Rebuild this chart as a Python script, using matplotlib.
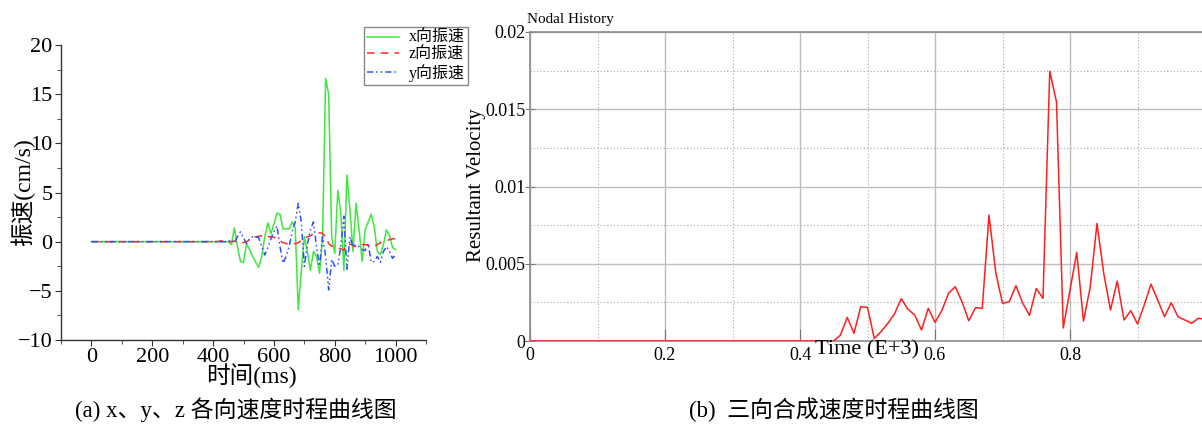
import numpy as np
import matplotlib
matplotlib.use("Agg")
from matplotlib import pyplot as plt
from matplotlib.ticker import MultipleLocator, FixedLocator, FixedFormatter

plt.rcParams['font.family'] = ['Liberation Serif', 'Noto Sans CJK SC']
plt.rcParams['axes.unicode_minus'] = True

# 时间轴 (ms)，每 10 ms 一个采样点
t_ms = np.arange(0, 1001, 10)

# x 向振速 (cm/s)，450 ms 之前为 0
vx_tail = [0.0, -0.3, 1.4, -0.5, -2.0, -2.1, -0.2, -0.8, -1.5, -2.1,
           -2.6, -1.5, 0.5, 1.9, 0.8, 1.8, 2.9, 2.8, 1.3, 1.3,
           1.3, 2.0, 1.4, -6.9, -3.0, 0.5, -1.0, -2.9, -1.0, -1.5,
           -3.2, 0.5, 16.6, 15.0, 0.5, -1.2, 5.2, 2.9, -2.9, 6.8,
           3.2, -1.0, 3.9, 1.2, -2.0, 1.2, 2.0, 2.8, 1.5, -1.0,
           -1.3, -0.3, 1.2, 0.6, -0.6, -0.8]
vx = [0.0] * 45 + vx_tail

# z 向振速，420 ms 起
vz_tail = [0.05, 0.1, 0.1, 0.0, 0.0, 0.05, -0.05, -0.1, -0.1, 0.0,
           0.2, 0.4, 0.5, 0.55, 0.6, 0.6, 0.5, 0.5, 0.45, 0.3,
           0.1, -0.1, -0.2, -0.2, -0.2, -0.2, -0.1, 0.1, 0.35, 0.5,
           0.6, 0.8, 0.85, 0.9, 0.85, 0.5, -0.2, -0.45, -0.5, -0.6,
           -0.75, -0.85, -0.3, -0.25, -0.4, -0.5, -0.35, -0.3, -0.3, -0.35,
           -0.5, -0.45, -0.3, -0.1, 0.0, 0.1, 0.2, 0.3, 0.3]
vz = [0.0] * 42 + vz_tail

# y 向振速，450 ms 起
vy_tail = [0.0, 0.2, -0.1, 0.5, 1.0, 0.4, -0.2, 0.3, 0.5, 0.5,
           0.4, -0.5, -1.35, -0.6, 0.3, 1.0, 1.6, -0.5, -2.2, -1.5,
           -0.5, 1.0, 2.0, 3.9, 2.0, -2.5, -0.3, 1.2, 2.0, -0.5,
           -2.5, 0.5, -1.5, -4.9, -1.8, -2.5, -2.4, -0.5, 2.6, -2.8,
           0.5, -0.5, -0.3, -0.5, -0.8, -0.9, -0.2, -2.1, -2.0, -1.5,
           -2.1, -1.0, -0.5, -1.0, -1.7, -1.3]
vy = [0.0] * 45 + vy_tail

# 合成速度 (Time 单位 E+3)，0.45 之前为 0
t_res = np.arange(0, 101) / 100.0
vr_tail = [0.00039, 0.00153, 0.0005, 0.00222, 0.00218, 0.00017, 0.0006, 0.00114, 0.00175, 0.00274,
           0.00205, 0.00168, 0.00071, 0.00211, 0.00121, 0.00196, 0.00308, 0.00351, 0.00254, 0.00131,
           0.00216, 0.00211, 0.00815, 0.00442, 0.00244, 0.00254, 0.00358, 0.00244, 0.00166, 0.0034,
           0.00276, 0.01746, 0.01547, 0.00084, 0.0033, 0.00573, 0.00129, 0.00351, 0.00761, 0.00437,
           0.002, 0.00388, 0.00136, 0.00196, 0.0011, 0.00233, 0.00368, 0.00265, 0.00157, 0.00248,
           0.00157, 0.00136, 0.00114, 0.00147, 0.00142]
vr = [0.0] * 46 + vr_tail

W, H = 1202, 424
fig = plt.figure(figsize=(W / 100, H / 100), dpi=100)

# ---- (a) 三向振速 ----
ax1 = fig.add_axes([61 / W, 1 - 340 / H, 365 / W, 295 / H])
ax1.plot(t_ms, vx, '-', color='#3de83d', lw=1.1, label='x向振速')
ax1.plot(t_ms, vz, '--', color='#ff2a2a', lw=1.1, dashes=(5, 4), label='z向振速')
ax1.plot(t_ms, vy, '-', color='#2f4fff', lw=1.1, dashes=(4, 2, 1, 2, 1, 2), label='y向振速')
ax1.set_xlim(-100, 1100)
ax1.set_ylim(-10, 20)
ax1.xaxis.set_major_locator(MultipleLocator(200))
ax1.xaxis.set_minor_locator(MultipleLocator(100))
ax1.yaxis.set_major_locator(MultipleLocator(5))
ax1.yaxis.set_minor_locator(MultipleLocator(2.5))
for s in ['top', 'right']:
    ax1.spines[s].set_visible(False)
for s in ['left', 'bottom']:
    ax1.spines[s].set_color('#333333')
    ax1.spines[s].set_linewidth(1.0)
ax1.tick_params(which='both', direction='out', colors='#333333', labelcolor='black')
ax1.tick_params(which='major', length=4, labelsize=16, pad=2)
ax1.tick_params(which='minor', length=3)

fig.text(23 / W, 1 - 192 / H, '振速(cm/s)', rotation=90, ha='center', va='center', fontsize=17)
fig.text(251 / W, 1 - 376 / H, '时间(ms)', ha='center', va='center', fontsize=17)

leg = ax1.legend(loc='upper left', bbox_to_anchor=(364 / W, 1 - 27 / H),
                 bbox_transform=fig.transFigure, borderaxespad=0,
                 prop={'family': ['Liberation Serif', 'Noto Sans CJK SC'], 'size': 11.5},
                 handlelength=2.0, labelspacing=0.05, borderpad=0.2, handletextpad=0.6,
                 fancybox=False, framealpha=1)
leg.get_frame().set_edgecolor('#888888')
leg.get_frame().set_linewidth(1.0)

# ---- (b) 合成速度 ----
ax2 = fig.add_axes([530 / W, 1 - 341 / H, 675 / W, 309 / H])
ax2.plot(t_res, vr, '-', color='#ff1e1e', lw=1.1, zorder=3)
ax2.set_xlim(0, 1.0)
ax2.set_ylim(0, 0.02)
ax2.xaxis.set_major_locator(FixedLocator([0, 0.2, 0.4, 0.6, 0.8]))
ax2.xaxis.set_major_formatter(FixedFormatter(['0', '0.2', '0.4', '0.6', '0.8']))
ax2.xaxis.set_minor_locator(MultipleLocator(0.1))
ax2.yaxis.set_major_locator(FixedLocator([0, 0.005, 0.01, 0.015, 0.02]))
ax2.yaxis.set_major_formatter(FixedFormatter(['0', '0.005', '0.01', '0.015', '0.02']))
ax2.yaxis.set_minor_locator(MultipleLocator(0.0025))
ax2.grid(which='major', color='#bdbdbd', lw=1.0, ls='-')
ax2.grid(which='minor', color='#a8a8a8', lw=0.8, ls=(0, (1, 2)))
ax2.set_axisbelow(True)
for s in ['left', 'bottom', 'top']:
    ax2.spines[s].set_color('#8c8c8c')
    ax2.spines[s].set_linewidth(1.2)
ax2.spines['right'].set_visible(False)
ax2.tick_params(axis='y', which='major', direction='inout', length=7, colors='#777777',
                labelcolor='black', labelsize=13, pad=0)
ax2.tick_params(axis='x', which='major', direction='in', length=9, colors='#777777',
                labelcolor='black', labelsize=13, pad=4)
ax2.tick_params(which='minor', length=0)

fig.text(527 / W, 1 - 20 / H, 'Nodal History', ha='left', va='center', fontsize=11)
fig.text(477 / W, 1 - 185 / H, 'Resultant Velocity', rotation=90, ha='center', va='center', fontsize=15)
fig.text(867 / W, 1 - 350 / H, 'Time (E+3)', ha='center', va='center', fontsize=16)

# 图注
fig.text(236 / W, 1 - 410 / H, '(a) x、y、z 各向速度时程曲线图', ha='center', va='center', fontsize=16.5)
fig.text(834 / W, 1 - 410 / H, '(b)  三向合成速度时程曲线图', ha='center', va='center', fontsize=16.5)

fig.savefig('out.png', dpi=100)
